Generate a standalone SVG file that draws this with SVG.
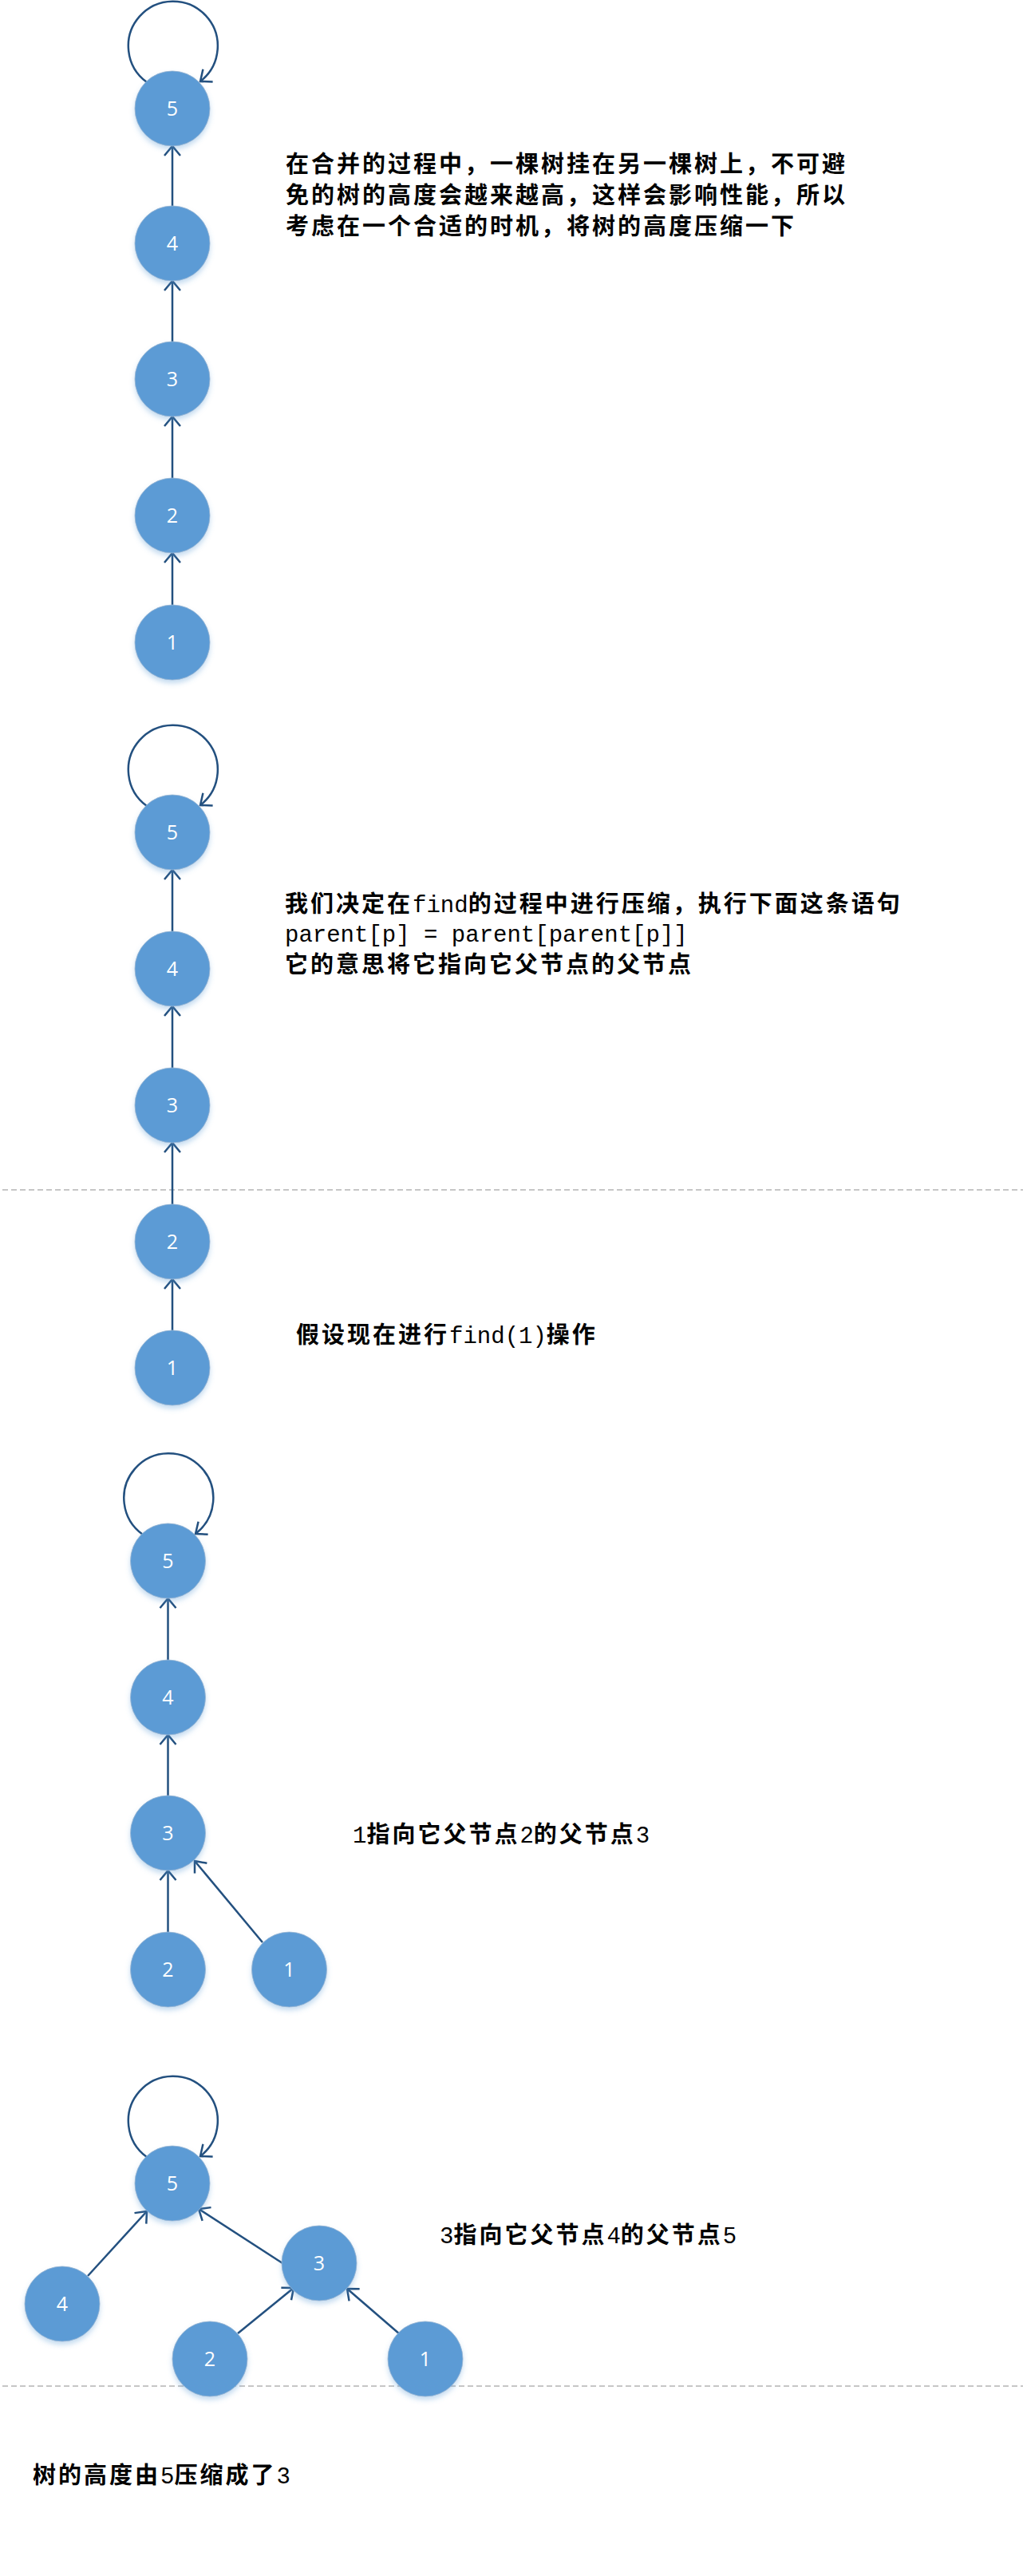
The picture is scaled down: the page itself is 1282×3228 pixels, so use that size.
<svg xmlns="http://www.w3.org/2000/svg" width="1282" height="3228" viewBox="0 0 1282 3228">
<defs>
<filter id="sh" x="-30%" y="-30%" width="160%" height="170%">
<feDropShadow dx="0" dy="4" stdDeviation="3" flood-color="#5b9bd5" flood-opacity="0.35"/>
</filter>
<marker id="ah" viewBox="-2 -2 16 24" refX="12" refY="10" markerWidth="16" markerHeight="24" markerUnits="userSpaceOnUse" orient="auto">
<path d="M0,0 L12,10 L0,20" fill="none" stroke="#23507f" stroke-width="2.5"/>
</marker>
</defs>
<style>
.node circle{fill:#5b9bd5;stroke:#9ab6d3;stroke-width:0.8;filter:url(#sh);}
.node text{fill:#ffffff;font-family:"Open Sans","Liberation Sans",sans-serif;font-size:25px;text-anchor:middle;}
.edge{stroke:#23507f;stroke-width:2.5;fill:none;marker-end:url(#ah);}
.sep{stroke:#b4b4b4;stroke-width:1.5;stroke-dasharray:7 4;}
.note{font-family:"Liberation Mono","Noto Sans CJK SC",monospace;font-size:29px;fill:#000000;}
.cj{font-family:"Noto Sans CJK SC",sans-serif;font-weight:bold;letter-spacing:3px;}
</style>
<rect width="1282" height="3228" fill="#ffffff"/>
<g id="separators">
<line class="sep" x1="3" y1="1491" x2="1282" y2="1491"/>
<line class="sep" x1="3" y1="2990" x2="1282" y2="2990"/>
</g>
<g id="connectors">
<path class="edge" d="M184,103 A56,56 0 1 1 251,102"/>
<line class="edge" x1="216" y1="758" x2="216" y2="693"/>
<line class="edge" x1="216" y1="599" x2="216" y2="522"/>
<line class="edge" x1="216" y1="428" x2="216" y2="352"/>
<line class="edge" x1="216" y1="258" x2="216" y2="183"/>
<path class="edge" d="M184,1010 A56,56 0 1 1 251,1009"/>
<line class="edge" x1="216" y1="1667" x2="216" y2="1603"/>
<line class="edge" x1="216" y1="1509" x2="216" y2="1432"/>
<line class="edge" x1="216" y1="1338" x2="216" y2="1261"/>
<line class="edge" x1="216" y1="1167" x2="216" y2="1090"/>
<path class="edge" d="M179,1923 A56,56 0 1 1 245,1922"/>
<line class="edge" x1="210.5" y1="2421" x2="210.5" y2="2344"/>
<line class="edge" x1="210.5" y1="2250" x2="210.5" y2="2174"/>
<line class="edge" x1="210.5" y1="2080" x2="210.5" y2="2003"/>
<line class="edge" x1="329" y1="2434" x2="244" y2="2332"/>
<path class="edge" d="M184,2703 A56,56 0 1 1 251,2702"/>
<line class="edge" x1="110" y1="2852" x2="184" y2="2771"/>
<line class="edge" x1="354" y1="2836" x2="249" y2="2768"/>
<line class="edge" x1="298" y1="2924" x2="368" y2="2867"/>
<line class="edge" x1="501" y1="2925" x2="435" y2="2868"/>
</g>
<g id="s1-n5" class="node"><circle cx="216" cy="136" r="47"/><text x="216" y="145">5</text></g>
<g id="s1-n4" class="node"><circle cx="216" cy="305" r="47"/><text x="216" y="314">4</text></g>
<g id="s1-n3" class="node"><circle cx="216" cy="475" r="47"/><text x="216" y="484">3</text></g>
<g id="s1-n2" class="node"><circle cx="216" cy="646" r="47"/><text x="216" y="655">2</text></g>
<g id="s1-n1" class="node"><circle cx="216" cy="805" r="47"/><text x="216" y="814">1</text></g>
<g id="s2-n5" class="node"><circle cx="216" cy="1043" r="47"/><text x="216" y="1052">5</text></g>
<g id="s2-n4" class="node"><circle cx="216" cy="1214" r="47"/><text x="216" y="1223">4</text></g>
<g id="s2-n3" class="node"><circle cx="216" cy="1385" r="47"/><text x="216" y="1394">3</text></g>
<g id="s2-n2" class="node"><circle cx="216" cy="1556" r="47"/><text x="216" y="1565">2</text></g>
<g id="s2-n1" class="node"><circle cx="216" cy="1714" r="47"/><text x="216" y="1723">1</text></g>
<g id="s3-n5" class="node"><circle cx="210.5" cy="1956" r="47"/><text x="210.5" y="1965">5</text></g>
<g id="s3-n4" class="node"><circle cx="210.5" cy="2127" r="47"/><text x="210.5" y="2136">4</text></g>
<g id="s3-n3" class="node"><circle cx="210.5" cy="2297" r="47"/><text x="210.5" y="2306">3</text></g>
<g id="s3-n2" class="node"><circle cx="210.5" cy="2468" r="47"/><text x="210.5" y="2477">2</text></g>
<g id="s3-n1" class="node"><circle cx="362.5" cy="2468" r="47"/><text x="362.5" y="2477">1</text></g>
<g id="s4-n5" class="node"><circle cx="216" cy="2736" r="47"/><text x="216" y="2745">5</text></g>
<g id="s4-n3" class="node"><circle cx="400" cy="2836" r="47"/><text x="400" y="2845">3</text></g>
<g id="s4-n4" class="node"><circle cx="78" cy="2887" r="47"/><text x="78" y="2896">4</text></g>
<g id="s4-n2" class="node"><circle cx="263" cy="2956" r="47"/><text x="263" y="2965">2</text></g>
<g id="s4-n1" class="node"><circle cx="533" cy="2956" r="47"/><text x="533" y="2965">1</text></g>
<g id="notes">
<text class="note cj" x="358" y="216">在合并的过程中，一棵树挂在另一棵树上，不可避</text>
<text class="note cj" x="358" y="255">免的树的高度会越来越高，这样会影响性能，所以</text>
<text class="note cj" x="358" y="294">考虑在一个合适的时机，将树的高度压缩一下</text>
<text class="note" x="357" y="1143"><tspan class="cj">我们决定在</tspan>find<tspan class="cj">的过程中进行压缩，执行下面这条语句</tspan></text>
<text class="note" x="357" y="1180">parent[p] = parent[parent[p]]</text>
<text class="note cj" x="357" y="1219">它的意思将它指向它父节点的父节点</text>
<text class="note" x="371" y="1683"><tspan class="cj">假设现在进行</tspan>find(1)<tspan class="cj">操作</tspan></text>
<text class="note" x="442" y="2309">1<tspan class="cj">指向它父节点</tspan>2<tspan class="cj">的父节点</tspan>3</text>
<text class="note" x="551" y="2811">3<tspan class="cj">指向它父节点</tspan>4<tspan class="cj">的父节点</tspan>5</text>
<text class="note" x="41" y="3112"><tspan class="cj">树的高度由</tspan>5<tspan class="cj">压缩成了</tspan>3</text>
</g>
</svg>
